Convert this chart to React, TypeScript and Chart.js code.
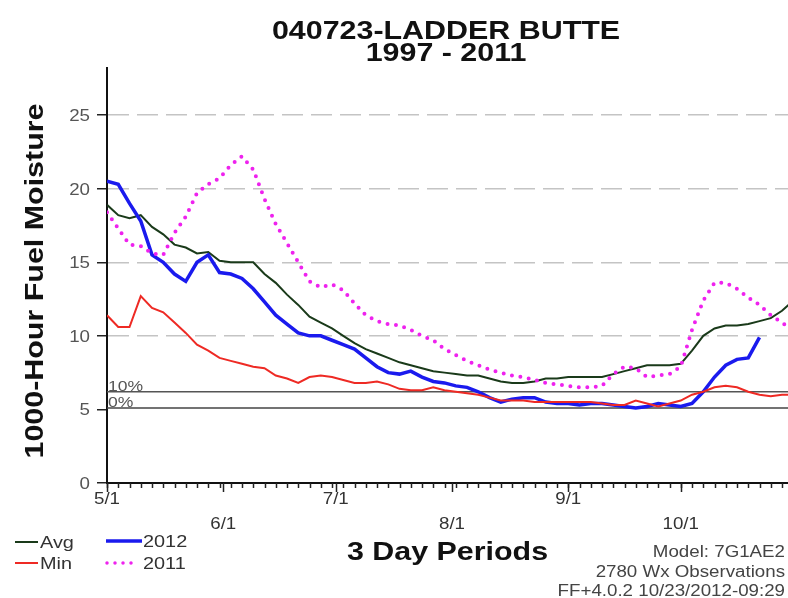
import React, { useEffect, useRef } from 'react';
import { Chart, registerables } from 'chart.js';

Chart.register(...registerables);

// 3-day periods, day offset from 5/1
const periodDay = [0, 3, 6, 9, 12, 15, 18, 21, 24, 27, 30, 33, 36, 39, 42, 45, 48, 51, 54, 57, 60, 63, 66, 69, 72, 75, 78, 81, 84, 87, 90, 93, 96, 99, 102, 105, 108, 111, 114, 117, 120, 123, 126, 129, 132, 135, 138, 141, 144, 147, 150, 153, 156, 159, 162, 165, 168, 171, 174, 177, 180, 183];

const avgValues = [18.9, 18.2, 18.0, 18.2, 17.4, 16.9, 16.2, 16.0, 15.6, 15.7, 15.1, 15.0, 15.0, 15.0, 14.2, 13.6, 12.8, 12.1, 11.3, 10.9, 10.5, 10.0, 9.5, 9.1, 8.8, 8.5, 8.2, 8.0, 7.8, 7.6, 7.5, 7.4, 7.3, 7.3, 7.1, 6.9, 6.8, 6.8, 6.9, 7.1, 7.1, 7.2, 7.2, 7.2, 7.2, 7.4, 7.6, 7.8, 8.0, 8.0, 8.0, 8.1, 9.0, 10.0, 10.5, 10.7, 10.7, 10.8, 11.0, 11.2, 11.7, 12.4];

const minValues = [11.4, 10.6, 10.6, 12.7, 11.9, 11.6, 10.9, 10.2, 9.4, 9.0, 8.5, 8.3, 8.1, 7.9, 7.8, 7.3, 7.1, 6.8, 7.2, 7.3, 7.2, 7.0, 6.8, 6.8, 6.9, 6.7, 6.4, 6.3, 6.3, 6.5, 6.3, 6.2, 6.1, 6.0, 5.8, 5.6, 5.6, 5.6, 5.5, 5.5, 5.5, 5.5, 5.5, 5.5, 5.4, 5.3, 5.3, 5.6, 5.4, 5.2, 5.4, 5.6, 6.0, 6.2, 6.5, 6.6, 6.5, 6.2, 6.0, 5.9, 6.0, 6.0];

const values2012 = [20.5, 20.3, 19.0, 17.8, 15.5, 15.0, 14.2, 13.7, 15.0, 15.5, 14.3, 14.2, 13.9, 13.2, 12.3, 11.4, 10.8, 10.2, 10.0, 10.0, 9.7, 9.4, 9.1, 8.5, 7.9, 7.5, 7.4, 7.6, 7.2, 6.9, 6.8, 6.6, 6.5, 6.2, 5.8, 5.5, 5.7, 5.8, 5.8, 5.5, 5.4, 5.4, 5.3, 5.4, 5.4, 5.3, 5.2, 5.1, 5.2, 5.4, 5.3, 5.2, 5.4, 6.2, 7.2, 8.0, 8.4, 8.5, 9.9];

const values2011 = [18.4, 17.3, 16.2, 16.1, 15.6, 15.5, 17.0, 18.1, 19.7, 20.3, 20.7, 21.6, 22.2, 21.3, 19.3, 17.6, 16.3, 15.0, 13.7, 13.3, 13.5, 13.1, 12.2, 11.4, 11.0, 10.8, 10.7, 10.4, 10.0, 9.7, 9.1, 8.7, 8.3, 8.0, 7.7, 7.5, 7.3, 7.2, 7.0, 6.8, 6.7, 6.6, 6.5, 6.5, 6.6, 7.4, 7.9, 7.8, 7.2, 7.3, 7.4, 7.9, 10.4, 12.4, 13.6, 13.6, 13.2, 12.6, 12.1, 11.4, 10.9, 10.3];

const pct10Value = 6.2;
const pct0Value = 5.1;

const monthLabels = ['5/1', '6/1', '7/1', '8/1', '9/1', '10/1'];
const monthDay = [0, 31, 61, 92, 123, 153];
const yTickValues = [0, 5, 10, 15, 20, 25];
const dashedGridValues = [10, 15, 20, 25];

const X_MIN = 0;
const X_MAX = 181.6;
const Y_MIN = 0;
const Y_MAX = 28.2;

const FONT = '"Liberation Sans", Arial, Helvetica, sans-serif';
const SX = 1.17;

function drawText(
  ctx: CanvasRenderingContext2D,
  s: string,
  x: number,
  y: number,
  font: string,
  color: string,
  align: CanvasTextAlign,
  rotate = false,
  sx = SX
) {
  ctx.save();
  ctx.font = font;
  ctx.fillStyle = color;
  ctx.textBaseline = 'alphabetic';
  ctx.textAlign = align;
  ctx.translate(x, y);
  if (rotate) ctx.rotate(-Math.PI / 2);
  ctx.scale(sx, 1);
  ctx.fillText(s, 0, 0);
  ctx.restore();
}

const decorPlugin = {
  id: 'decor',
  afterDraw(chart: any) {
    const ctx: CanvasRenderingContext2D = chart.ctx;
    const xs = chart.scales.x;
    const ys = chart.scales.y;
    const area = chart.chartArea;

    // Title
    drawText(ctx, '040723-LADDER BUTTE', 446, 39, `bold 26px ${FONT}`, '#111', 'center');
    drawText(ctx, '1997 - 2011', 446, 61, `bold 26px ${FONT}`, '#111', 'center');

    // Y axis title
    drawText(ctx, '1000-Hour Fuel Moisture', 43, 281, `bold 26px ${FONT}`, '#111', 'center', true);

    // X axis title
    drawText(ctx, '3 Day Periods', (area.left + area.right) / 2, 560, `bold 26px ${FONT}`, '#111', 'center');

    // Y tick labels
    yTickValues.forEach((v) => {
      const py = ys.getPixelForValue(v);
      drawText(ctx, String(v), 90, py + 6, `16px ${FONT}`, '#555', 'right');
    });

    // X tick marks (3-day periods short, months long)
    ctx.save();
    ctx.strokeStyle = '#222';
    ctx.lineWidth = 1.5;
    periodDay.forEach((d) => {
      if (d > X_MAX) return;
      const px = Math.round(xs.getPixelForValue(d)) + 0.5;
      ctx.beginPath();
      ctx.moveTo(px, area.bottom);
      ctx.lineTo(px, area.bottom + 5);
      ctx.stroke();
    });
    monthDay.forEach((d) => {
      const px = Math.round(xs.getPixelForValue(d)) + 0.5;
      ctx.beginPath();
      ctx.moveTo(px, area.bottom);
      ctx.lineTo(px, area.bottom + 9);
      ctx.stroke();
    });
    ctx.restore();

    // X tick labels (alternating rows)
    monthLabels.forEach((lab, i) => {
      const px = xs.getPixelForValue(monthDay[i]);
      drawText(ctx, lab, px, i % 2 === 0 ? 504 : 529, `16px ${FONT}`, '#333', 'center');
    });

    // Percentile labels
    drawText(ctx, '10%', area.left + 1, ys.getPixelForValue(pct10Value) - 1, `15px ${FONT}`, '#555', 'left');
    drawText(ctx, '0%', area.left + 1, ys.getPixelForValue(pct0Value) - 1, `15px ${FONT}`, '#555', 'left');

    // Legend
    const legendLine = (x1: number, x2: number, y: number, color: string, w: number, dash?: number[]) => {
      ctx.save();
      ctx.strokeStyle = color;
      ctx.lineWidth = w;
      if (dash) {
        ctx.setLineDash(dash);
        ctx.lineCap = 'round';
      }
      ctx.beginPath();
      ctx.moveTo(x1, y);
      ctx.lineTo(x2, y);
      ctx.stroke();
      ctx.restore();
    };
    legendLine(15, 38, 542, '#1a3a1a', 2);
    drawText(ctx, 'Avg', 40, 548, `17px ${FONT}`, '#333', 'left');
    legendLine(15, 38, 563, '#ee2a24', 2);
    drawText(ctx, 'Min', 40, 569, `17px ${FONT}`, '#333', 'left');
    legendLine(106, 142, 541, '#1a1aee', 3.5);
    drawText(ctx, '2012', 143, 547, `17px ${FONT}`, '#333', 'left');
    legendLine(107, 133, 563, '#ee22ee', 3.5, [0, 8]);
    drawText(ctx, '2011', 143, 569, `17px ${FONT}`, '#333', 'left');

    // Footer info
    drawText(ctx, 'Model: 7G1AE2', 785, 557, `16px ${FONT}`, '#444', 'right');
    drawText(ctx, '2780 Wx Observations', 785, 577, `16px ${FONT}`, '#444', 'right');
    drawText(ctx, 'FF+4.0.2 10/23/2012-09:29', 785, 596, `16px ${FONT}`, '#444', 'right');
  },
};

function toPoints(vals: number[]) {
  return vals.map((v, i) => ({ x: periodDay[i], y: v }));
}

export default function App() {
  const canvasRef = useRef<HTMLCanvasElement | null>(null);

  useEffect(() => {
    const canvas = canvasRef.current;
    if (!canvas) return;
    const chart = new Chart(canvas, {
      type: 'line',
      data: {
        datasets: [
          {
            label: '2011',
            data: toPoints(values2011),
            borderColor: '#ee22ee',
            borderWidth: 4,
            borderDash: [0, 8.5],
            borderCapStyle: 'round',
            pointRadius: 0,
            fill: false,
          },
          {
            label: 'Min',
            data: toPoints(minValues),
            borderColor: '#ee2a24',
            borderWidth: 2,
            pointRadius: 0,
            fill: false,
          },
          {
            label: '2012',
            data: toPoints(values2012),
            borderColor: '#1a1aee',
            borderWidth: 3.5,
            pointRadius: 0,
            fill: false,
          },
          {
            label: 'Avg',
            data: toPoints(avgValues),
            borderColor: '#1a3a1a',
            borderWidth: 2,
            pointRadius: 0,
            fill: false,
          },
          {
            label: '10%',
            data: [
              { x: X_MIN, y: pct10Value },
              { x: X_MAX, y: pct10Value },
            ],
            borderColor: '#555',
            borderWidth: 1.5,
            pointRadius: 0,
            fill: false,
          },
          {
            label: '0%',
            data: [
              { x: X_MIN, y: pct0Value },
              { x: X_MAX, y: pct0Value },
            ],
            borderColor: '#444',
            borderWidth: 1.5,
            pointRadius: 0,
            fill: false,
          },
        ],
      },
      options: {
        responsive: false,
        animation: false,
        events: [],
        layout: { padding: { top: 68, left: 0, right: 0, bottom: 0 } },
        plugins: {
          legend: { display: false },
          title: { display: false },
          tooltip: { enabled: false },
        },
        scales: {
          x: {
            type: 'linear',
            min: X_MIN,
            max: X_MAX,
            ticks: { display: false },
            grid: { display: false, drawTicks: false },
            border: { display: true, color: '#111', width: 2 },
            afterFit: (s: any) => {
              s.height = 115;
            },
          },
          y: {
            type: 'linear',
            min: Y_MIN,
            max: Y_MAX,
            afterBuildTicks: (s: any) => {
              s.ticks = yTickValues.map((v) => ({ value: v }));
            },
            ticks: { display: false },
            grid: {
              color: (c: any) =>
                c.tick && dashedGridValues.includes(c.tick.value) ? '#c4c4c4' : 'rgba(0,0,0,0)',
              lineWidth: 1.5,
              drawTicks: true,
              tickLength: 10,
              tickColor: '#222',
              tickWidth: 1.5,
            },
            border: { display: true, color: '#111', width: 2, dash: [21, 8] },
            afterFit: (s: any) => {
              s.width = 107;
            },
          },
        },
      },
      plugins: [decorPlugin],
    } as any);
    return () => chart.destroy();
  }, []);

  return (
    <div style={{ position: 'fixed', left: 0, top: 0, width: 788, height: 598, background: '#fff' }}>
      <canvas ref={canvasRef} width={788} height={598} style={{ width: 788, height: 598, display: 'block' }} />
    </div>
  );
}
